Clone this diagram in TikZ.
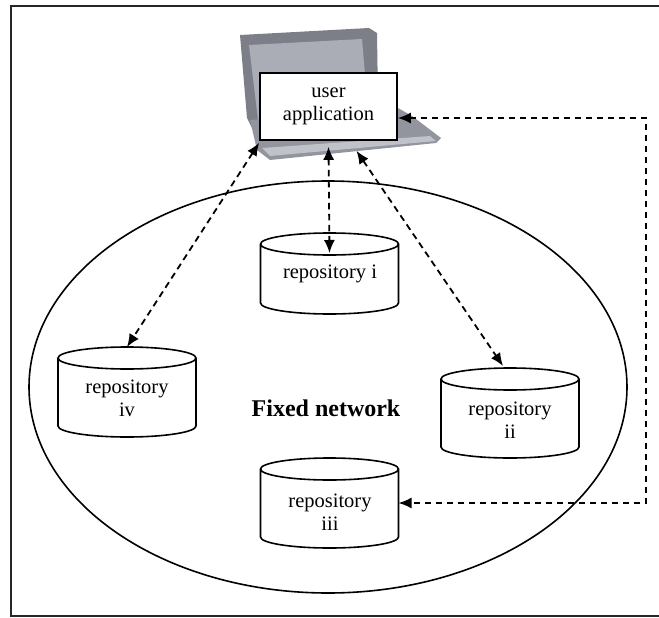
\documentclass[tikz,border=0pt]{standalone}
\usepackage{fontspec}
\setmainfont{Liberation Serif}
\usetikzlibrary{arrows.meta,shapes.geometric}

\definecolor{lidframe}{RGB}{124,126,136}
\definecolor{lidscreen}{RGB}{170,172,182}
\definecolor{basegray}{RGB}{146,148,158}
\definecolor{baselight}{RGB}{192,194,202}

% cylinder outline drawn on the anchors of an invisible box node
\newcommand\drawcyl[1]{%
  \draw[cylline] ([yshift=-11pt]#1.north west) -- ([yshift=11pt]#1.south west)
    arc[start angle=180,end angle=360,x radius=69pt,y radius=11pt]
    -- ([yshift=-11pt]#1.north east)
    arc[start angle=0,end angle=360,x radius=69pt,y radius=11pt];}

\begin{document}
\begin{tikzpicture}[x=1pt,y=-1pt,
  frame/.style={line width=1.8pt, draw=black!85},
  netline/.style={line width=1.6pt},
  cylbox/.style={inner sep=0pt, outer sep=0pt, minimum width=138pt},
  cylline/.style={line width=1.6pt},
  labeltext/.style={font=\fontsize{20.5}{23}\selectfont, align=center, inner sep=0pt},
  link/.style={line width=1.8pt, dash pattern=on 6.5pt off 4.5pt,
    {Latex[length=13pt,width=11pt]}-{Latex[length=13pt,width=11pt]}}]
\useasboundingbox (0,0) rectangle (659,618);

% outer frame
\draw[frame] (659,6) -- (11,6) -- (11,616) -- (659,616);

% laptop: lid
\fill[lidframe] (240,35) -- (369,28) -- (377,33) -- (378,100) -- (256,136) -- (247,118) -- cycle;
\fill[lidscreen] (249,45) -- (362,39) -- (367,98) -- (258,120) -- cycle;
% laptop: base
\fill[basegray] (250,120) -- (398,108) -- (412,116) -- (441,138) -- (436,143) -- (270,160) -- (257,150) -- cycle;
\fill[baselight] (262,148) -- (430,136) -- (436,141) -- (270,156) -- cycle;

% user application
\node[draw, fill=white, line width=1.6pt, minimum width=137pt, minimum height=67pt,
  labeltext] (ua) at (328.5,106.5) {user\\application};

% fixed network
\node[draw, ellipse, netline, minimum width=598pt, minimum height=412pt,
  inner sep=0pt, outer sep=0pt] (net) at (328,387) {};
\node[font=\bfseries\fontsize{24}{28}\selectfont, inner sep=0pt] (netlabel) at (326,408) {Fixed network};

% repositories
\node[cylbox, minimum height=81pt] (r1) at (329.5,273.5) {};
\node[labeltext] (r1-label) at (330,274) {repository i};
\drawcyl{r1}

\node[cylbox, minimum height=90pt] (r2) at (510,413) {};
\node[labeltext] (r2-label) at (510,420) {repository\\ii};
\drawcyl{r2}

\node[cylbox, minimum height=90pt] (r3) at (329.5,503) {};
\node[labeltext] (r3-label) at (330,512) {repository\\iii};
\drawcyl{r3}

\node[cylbox, minimum height=90pt] (r4) at (127,392) {};
\node[labeltext] (r4-label) at (127,398) {repository\\iv};
\drawcyl{r4}

% connectors
\draw[link] ([yshift=-2pt]ua.south west) -- (r4.north);
\draw[link] ([yshift=-6pt]ua.south) -- ([yshift=-20pt]r1.north);
\draw[link] ([xshift=28pt,yshift=-10pt]ua.south) -- ([xshift=-7pt,yshift=2pt]r2.north);
\coordinate (bend) at (646,503);
\draw[link] ([yshift=-11.5pt]ua.east) -| (bend) -- (r3.east);
\end{tikzpicture}
\end{document}
